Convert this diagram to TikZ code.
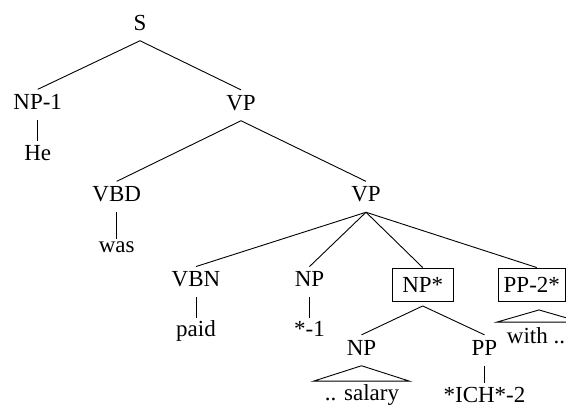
\documentclass[tikz,border=0pt]{standalone}
\usepackage{fontspec}
\setmainfont{Liberation Serif}
\begin{document}
\begin{tikzpicture}[x=1pt, y=-1pt, line width=0.9pt,
  every node/.style={font=\fontsize{23}{27}\selectfont, inner sep=0pt, anchor=base},
  cat/.style={text height=19.7pt, text depth=10.3pt},
  leaf/.style={text height=18.5pt, text depth=0pt},
  lowleaf/.style={text height=12.5pt, text depth=0pt},
  boxed/.style={draw, text height=24.7pt, text depth=8.6pt}]
  \useasboundingbox (0,0) rectangle (566,407);
  \clip (0,0) rectangle (566,407);

  % categories
  \node[cat] (S)    at (140,30)    {S};
  \node[cat] (NP1)  at (37.7,109.5) {NP-1};
  \node[cat] (VP)   at (241,110)   {VP};
  \node[cat] (VBD)  at (116.7,201.5) {VBD};
  \node[cat] (VPb)  at (366,201.5) {VP};
  \node[cat] (VBN)  at (196,286.7) {VBN};
  \node[cat] (NPe)  at (309.5,286.7) {NP};
  \node[boxed, minimum width=60.5pt] (NPs) at (422.7,292.7) {NP*};
  \node[boxed, minimum width=66.3pt] (PP2) at (531.8,292.7) {PP-2*};
  \node[cat] (NPl)  at (361.5,355) {NP};
  \node[cat] (PP)   at (484.5,355) {PP};

  % words
  \node[leaf]    (He)   at (37.7,160)    {He};
  \node[lowleaf] (was)  at (116.7,252)   {was};
  \node[leaf]    (paid) at (196,336.7)   {paid};
  \node[leaf]    (tr1)  at (309.5,336.7) {*-1};
  \node[leaf]    (ich)  at (484.5,402)   {*ICH*-2};
  \node[leaf]    (sal)  at (362,400)     {.. salary};
  \node[leaf]    (with) at (536,343.5)   {with ..};

  % branches
  \draw (S.south) -- (NP1.north);
  \draw (S.south) -- (VP.north);
  \draw (NP1.south) -- (He.north);
  \draw (VP.south) -- (VBD.north);
  \draw (VP.south) -- (VPb.north);
  \draw (VBD.south) -- (was.north);
  \draw (VPb.south) -- (VBN.north);
  \draw (VPb.south) -- (NPe.north);
  \draw (VPb.south) -- (NPs.north);
  \draw (VPb.south) -- ([xshift=5pt]PP2.north);
  \draw (VBN.south) -- (paid.north);
  \draw (NPe.south) -- (tr1.north);
  \coordinate (NPsfoot) at ([yshift=-4.2pt]NPs.south);
  \draw (NPsfoot) -- (NPl.north);
  \draw (NPsfoot) -- (PP.north);
  \draw (PP.south) -- (ich.north);

  % collapsed subtrees
  \draw (NPl.south) -- ++(-48,15.4) -- ++(96,0) -- cycle;
  \coordinate (PPfoot) at ([xshift=7.2pt,yshift=-8.2pt]PP2.south);
  \draw (PPfoot) -- ++(-42.3,12.2) -- ++(84.6,0) -- cycle;
\end{tikzpicture}
\end{document}
